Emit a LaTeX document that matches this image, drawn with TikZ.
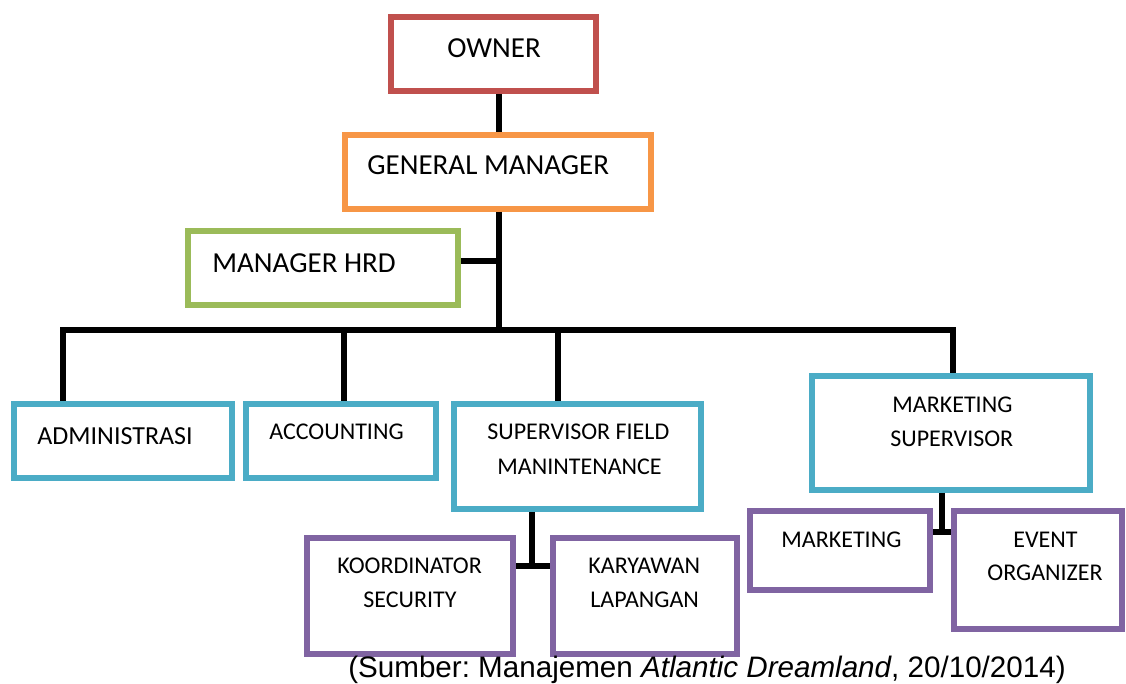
\documentclass[tikz,border=0pt]{standalone}
\usepackage{fontspec}
\setmainfont{Carlito}
\newfontfamily\capfont{Liberation Sans}
\usetikzlibrary{fit}
\definecolor{ownerred}{HTML}{C0504D}
\definecolor{gmorange}{HTML}{F79646}
\definecolor{hrdgreen}{HTML}{9BBB59}
\definecolor{deptblue}{HTML}{4BACC6}
\definecolor{staffpurple}{HTML}{8064A2}
\frenchspacing
\begin{document}
\begin{tikzpicture}[x=0.5pt,y=-0.5pt,
  box/.style={draw, line width=2.9pt, inner sep=0pt},
  lbl/.style={anchor=base west, inner sep=0pt},
  big/.style={font=\fontsize{14.5}{17}\selectfont},
  mid/.style={font=\fontsize{13}{15}\selectfont},
  small/.style={font=\fontsize{12}{14}\selectfont},
  link/.style={line width=3pt}]
\useasboundingbox (0,0) rectangle (1126,684);

% boxes
\node[box, draw=ownerred, fit={(391,17)(596,91)}] (owner) {};
\node[box, draw=gmorange, fit={(345,135)(651,209)}] (gm) {};
\node[box, draw=hrdgreen, fit={(188,231)(458,305)}] (hrd) {};
\node[box, draw=deptblue, fit={(14,404)(232,478)}] (adm) {};
\node[box, draw=deptblue, fit={(246,404)(436,478)}] (acc) {};
\node[box, draw=deptblue, fit={(454,404)(701,509)}] (sfm) {};
\node[box, draw=deptblue, fit={(812,376)(1090,490)}] (ms) {};
\node[box, draw=staffpurple, fit={(307,538)(513,654)}] (kor) {};
\node[box, draw=staffpurple, fit={(553,538)(737,654)}] (kar) {};
\node[box, draw=staffpurple, fit={(750,511)(930,590)}] (mkt) {};
\node[box, draw=staffpurple, fit={(954,511)(1122,629)}] (evt) {};

% labels
\node[lbl, big] (owner-t) at (447,58) {OWNER};
\node[lbl, big] (gm-t) at (367,175) {GENERAL MANAGER};
\node[lbl, big] (hrd-t) at (212,273) {MANAGER HRD};
\node[lbl, mid] (adm-t) at (37,445) {ADMINISTRASI};
\node[lbl, small] (acc-t) at (269,440) {ACCOUNTING};
\node[lbl, small] (sfm-t1) at (487,440) {SUPERVISOR FIELD};
\node[lbl, small] (sfm-t2) at (497,474) {MANINTENANCE};
\node[lbl, small] (ms-t1) at (892,413) {MARKETING};
\node[lbl, small] (ms-t2) at (890,447) {SUPERVISOR};
\node[lbl, small] (mkt-t) at (781,547) {MARKETING};
\node[lbl, small] (evt-t1) at (1013,547) {EVENT};
\node[lbl, small] (evt-t2) at (987,581) {ORGANIZER};
\node[lbl, small] (kor-t1) at (337,574) {KOORDINATOR};
\node[lbl, small] (kor-t2) at (363,608) {SECURITY};
\node[lbl, small] (kar-t1) at (588,574) {KARYAWAN};
\node[lbl, small] (kar-t2) at (590,608) {LAPANGAN};

% junction points
\coordinate (trunk) at (499,330);
\coordinate (hrdj) at (499,261);
\coordinate (busL) at (63,330);
\coordinate (busR) at (953,330);
\coordinate (accx) at (344,330);
\coordinate (sfmx) at (558,330);
\coordinate (sfmj) at (532,566);
\coordinate (msj) at (942,532);

% connectors
\draw[link] (owner.south -| trunk) -- (gm.north -| trunk);
\draw[link] (gm.south -| trunk) -- (trunk);
\draw[link] (hrd.east |- hrdj) -- (hrdj);
\draw[link] (adm.north -| busL) -- (busL) -- (busR) -- (ms.north -| busR);
\draw[link] (accx) -- (acc.north -| accx);
\draw[link] (sfmx) -- (sfm.north -| sfmx);
\draw[link] (sfm.south -| sfmj) -- (sfmj);
\draw[link] (kor.east |- sfmj) -- (kar.west |- sfmj);
\draw[link] (ms.south -| msj) -- (msj);
\draw[link] (mkt.east |- msj) -- (evt.west |- msj);

% source note
\node[anchor=base, inner sep=0pt, font=\capfont\fontsize{14.8}{17}\selectfont] (src) at (707,677)
  {(Sumber: Manajemen \textit{Atlantic Dreamland}, 20/10/2014)};
\end{tikzpicture}
\end{document}
